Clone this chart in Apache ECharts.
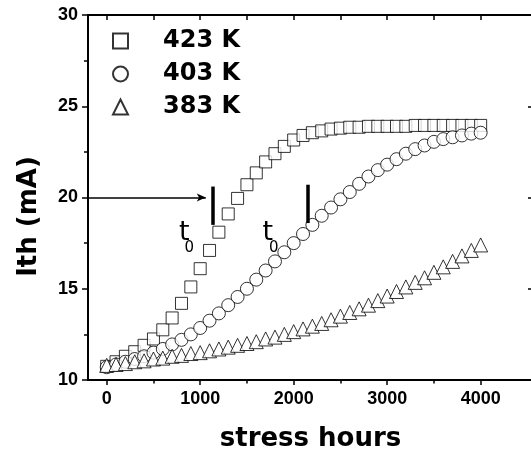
<!DOCTYPE html>
<html>
<head>
<meta charset="utf-8">
<script src="https://cdn.jsdelivr.net/npm/echarts@6/dist/echarts.min.js"></script>
<style>
  html, body { margin: 0; padding: 0; background: #fff; }
  #main { width: 531px; height: 451px; }
</style>
</head>
<body>
<div id="main"></div>
<script>
// Threshold current vs. stress time at three temperatures
const hours = [0, 100, 200, 300, 400, 500, 600, 700, 800, 900,
  1000, 1100, 1200, 1300, 1400, 1500, 1600, 1700, 1800, 1900,
  2000, 2100, 2200, 2300, 2400, 2500, 2600, 2700, 2800, 2900,
  3000, 3100, 3200, 3300, 3400, 3500, 3600, 3700, 3800, 3900, 4000];

const ith423 = [10.75, 11.0, 11.3, 11.55, 11.9, 12.25, 12.75, 13.4, 14.2, 15.1,
  16.1, 17.1, 18.1, 19.1, 19.95, 20.7, 21.35, 21.95, 22.4, 22.8,
  23.15, 23.4, 23.55, 23.65, 23.75, 23.8, 23.85, 23.85, 23.9, 23.9,
  23.9, 23.9, 23.9, 23.95, 23.95, 23.95, 23.95, 23.95, 23.95, 23.95, 23.95];

const ith403 = [10.7, 10.85, 11.0, 11.15, 11.3, 11.5, 11.7, 11.95, 12.2, 12.5,
  12.85, 13.25, 13.65, 14.1, 14.55, 15.0, 15.5, 16.0, 16.5, 17.0,
  17.5, 18.0, 18.5, 19.0, 19.45, 19.9, 20.3, 20.75, 21.15, 21.5,
  21.8, 22.1, 22.4, 22.65, 22.85, 23.05, 23.2, 23.3, 23.4, 23.5, 23.55];

const ith383 = [10.8, 10.85, 10.9, 11.0, 11.05, 11.15, 11.2, 11.3, 11.35, 11.45,
  11.5, 11.6, 11.7, 11.8, 11.9, 12.0, 12.1, 12.25, 12.35, 12.5,
  12.65, 12.8, 12.95, 13.1, 13.3, 13.5, 13.7, 13.9, 14.1, 14.35,
  14.6, 14.85, 15.1, 15.35, 15.6, 15.9, 16.2, 16.5, 16.8, 17.1, 17.4];

const seriesNames = ['423 K', '403 K', '383 K'];
const xLabelValues = [0, 1000, 2000, 3000, 4000];
const xMinorValues = [500, 1500, 2500, 3500];
const xTopTickValues = [0, 500, 1000, 1500, 2000, 2500, 3000, 3500, 4000];

// failure criterion and the t0 markers
const threshold = 20;
const arrowStart = -200;
const arrowEnd = 1060;
const t0Bars = [[1130, 18.5, 20.6], [2150, 18.6, 20.7]];
const t0Text = [[829, 18.08], [1722, 18.08]];
const t0Sub = [[884, 17.2], [1788, 17.2]];

const tickFont = { color: '#000', fontFamily: 'Liberation Sans', fontWeight: 'bold', fontSize: 18 };
const titleFont = { color: '#000', fontFamily: 'DejaVu Sans', fontWeight: 'bold', fontSize: 26 };
const axisLineStyle = { color: '#000', width: 2 };
const tickLineStyle = { color: '#000', width: 1.5 };

const markerStyle = { color: '#fff', borderColor: '#000', borderWidth: 1 };

const zip = (xs, ys) => xs.map((x, i) => [x, ys[i]]);

const chart = echarts.init(document.getElementById('main'), null, { renderer: 'canvas' });

const markLineData = [
  [
    { coord: [arrowStart, threshold], symbol: 'none', lineStyle: { color: '#000', width: 1.5 } },
    { coord: [arrowEnd, threshold], symbol: 'arrow', symbolSize: [6, 9] }
  ]
].concat(t0Bars.map(b => [
  { coord: [b[0], b[1]], symbol: 'none', lineStyle: { color: '#000', width: 3.5 } },
  { coord: [b[0], b[2]], symbol: 'none' }
]));

chart.setOption({
  animation: false,
  backgroundColor: '#fff',
  grid: { left: 88, right: -2, top: 15, bottom: 71, containLabel: false, outerBoundsMode: 'none' },
  legend: {
    orient: 'vertical',
    left: 107,
    top: 24,
    itemWidth: 15,
    itemHeight: 15,
    itemGap: 9,
    selectedMode: false,
    data: seriesNames,
    textStyle: { color: '#000', fontFamily: 'DejaVu Sans', fontWeight: 'bold', fontSize: 24, padding: [0, 0, 0, 30] }
  },
  xAxis: [
    {
      type: 'value', position: 'bottom', min: -200, max: 4560,
      axisLine: { show: true, onZero: false, lineStyle: axisLineStyle },
      axisTick: { show: true, inside: false, length: 5, customValues: xLabelValues, lineStyle: tickLineStyle },
      axisLabel: Object.assign({ customValues: xLabelValues, margin: 10, formatter: v => String(v) }, tickFont),
      splitLine: { show: false },
      name: 'stress hours', nameLocation: 'middle', nameGap: 46, nameTextStyle: titleFont
    },
    {
      type: 'value', position: 'bottom', min: -200, max: 4560,
      axisLine: { show: false, onZero: false },
      axisTick: { show: true, inside: false, length: 3.5, customValues: xMinorValues, lineStyle: tickLineStyle },
      axisLabel: { show: false },
      splitLine: { show: false }
    },
    {
      type: 'value', position: 'top', min: -200, max: 4560,
      axisLine: { show: true, onZero: false, lineStyle: axisLineStyle },
      axisTick: { show: true, inside: true, length: 5, customValues: xTopTickValues, lineStyle: tickLineStyle },
      axisLabel: { show: false },
      splitLine: { show: false }
    }
  ],
  yAxis: [
    {
      type: 'value', position: 'left', min: 10, max: 30, interval: 5,
      axisLine: { show: true, onZero: false, lineStyle: axisLineStyle },
      axisTick: { show: true, inside: false, length: 6, lineStyle: tickLineStyle },
      minorTick: { show: true, splitNumber: 2, length: 4, lineStyle: tickLineStyle },
      axisLabel: Object.assign({ margin: 10 }, tickFont),
      splitLine: { show: false },
      minorSplitLine: { show: false },
      name: 'Ith (mA)', nameLocation: 'middle', nameGap: 46,
      nameTextStyle: Object.assign({ padding: [0, 38, 0, 0] }, titleFont)
    },
    {
      type: 'value', position: 'right', min: 10, max: 30, interval: 5,
      axisLine: { show: true, onZero: false, lineStyle: axisLineStyle },
      axisTick: { show: true, inside: true, length: 5, lineStyle: tickLineStyle },
      axisLabel: { show: false },
      splitLine: { show: false }
    }
  ],
  series: [
    {
      name: seriesNames[0], type: 'scatter', symbol: 'rect', symbolSize: 12,
      itemStyle: markerStyle, data: zip(hours, ith423),
      markLine: {
        silent: true, animation: false, symbol: 'none',
        label: { show: false },
        lineStyle: { color: '#000', type: 'solid', width: 1.5 },
        emphasis: { disabled: true },
        data: markLineData
      }
    },
    {
      name: seriesNames[1], type: 'scatter', symbol: 'circle', symbolSize: 13,
      itemStyle: markerStyle, data: zip(hours, ith403)
    },
    {
      name: seriesNames[2], type: 'scatter', symbol: 'triangle', symbolSize: 14,
      itemStyle: markerStyle, data: zip(hours, ith383)
    }
  ]
});

// t0 labels placed at data coordinates
const labelGraphics = [];
t0Text.forEach((p, i) => {
  const a = chart.convertToPixel({ xAxisIndex: 0, yAxisIndex: 0 }, p);
  const b = chart.convertToPixel({ xAxisIndex: 0, yAxisIndex: 0 }, t0Sub[i]);
  labelGraphics.push({
    type: 'text', x: a[0], y: a[1], silent: true,
    style: { text: 't', fill: '#000', fontFamily: 'DejaVu Sans', fontSize: 27, align: 'center', verticalAlign: 'middle' }
  });
  labelGraphics.push({
    type: 'text', x: b[0], y: b[1], silent: true,
    style: { text: '0', fill: '#000', fontFamily: 'DejaVu Sans', fontSize: 15, align: 'center', verticalAlign: 'middle' }
  });
});
chart.setOption({ graphic: labelGraphics });
</script>
</body>
</html>
